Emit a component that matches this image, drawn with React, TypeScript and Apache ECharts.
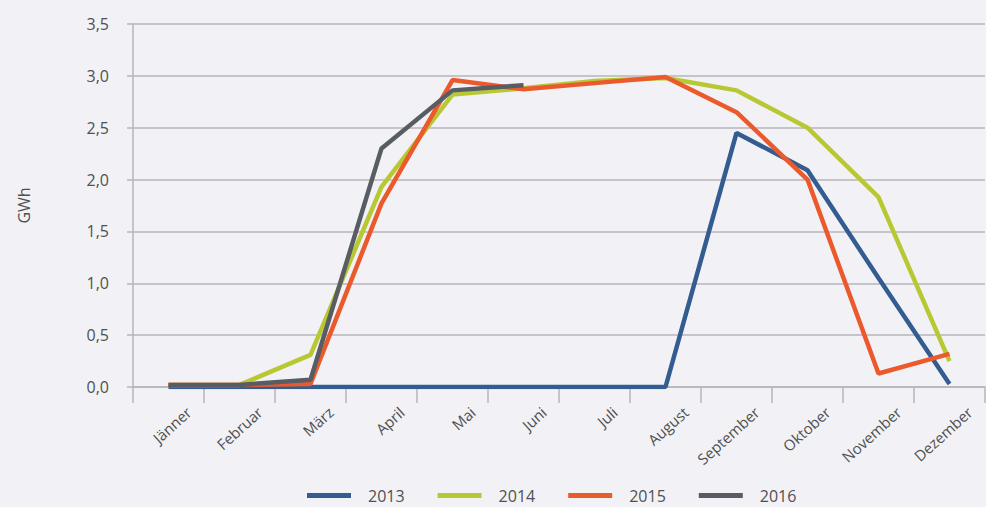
import React, { useEffect, useRef } from "react";
import * as echarts from "echarts";

const months = ["Jänner", "Februar", "März", "April", "Mai", "Juni", "Juli", "August", "September", "Oktober", "November", "Dezember"];
const yearNames = ["2013", "2014", "2015", "2016"];
const s2013 = [0.0, 0.0, 0.0, 0.0, 0.0, 0.0, 0.0, 0.0, 2.45, 2.09, 1.05, 0.03];
const s2014 = [0.02, 0.02, 0.31, 1.93, 2.82, 2.88, 2.95, 2.98, 2.86, 2.5, 1.83, 0.25];
const s2015 = [0.02, 0.02, 0.03, 1.77, 2.96, 2.87, 2.93, 2.99, 2.65, 2.0, 0.13, 0.32];
const s2016 = [0.02, 0.02, 0.07, 2.3, 2.86, 2.91, null, null, null, null, null, null];
const colors = ["#335d91", "#b8c833", "#eb5a2c", "#585d63"];

const FONT = "'Open Sans', sans-serif";

export default function App() {
  const ref = useRef<HTMLDivElement>(null);
  useEffect(() => {
    document.body.style.margin = "0";
    const chart = echarts.init(ref.current!, null, { renderer: "svg" });
    const all = [s2013, s2014, s2015, s2016];
    chart.setOption({
      animation: false,
      backgroundColor: "#f2f2f6",
      color: colors,
      grid: { left: 133, right: 1, top: 24, bottom: 120, containLabel: false },
      legend: {
        top: 487,
        left: 307,
        padding: 0,
        icon: "rect",
        itemWidth: 44,
        itemHeight: 5,
        itemGap: 33,
        textStyle: { fontFamily: FONT, fontSize: 16, lineHeight: 17, color: "#505050", padding: [0, 0, 0, 12] },
        data: yearNames,
      },
      xAxis: {
        type: "category",
        data: months,
        boundaryGap: true,
        axisLine: { show: true, lineStyle: { color: "#b9b5ba", width: 1.5 } },
        axisTick: { show: true, length: 16, lineStyle: { color: "#b9b5ba", width: 1.5 } },
        axisLabel: {
          rotate: 42,
          interval: 0,
          margin: 0,
          align: "right",
          verticalAlign: "top",
          padding: [23, 0, 0, 0],
          fontFamily: FONT,
          fontSize: 15,
          color: "#505050",
        },
      },
      yAxis: {
        type: "value",
        min: 0,
        max: 3.5,
        interval: 0.5,
        name: "GWh",
        nameLocation: "middle",
        nameGap: 101,
        nameTextStyle: { fontFamily: FONT, fontSize: 16, color: "#505050" },
        axisLine: { show: true, lineStyle: { color: "#b9b5ba", width: 1.5 } },
        axisTick: { show: true, length: 6, lineStyle: { color: "#b9b5ba", width: 1.5 } },
        splitLine: { show: true, lineStyle: { color: "#b9b5ba", width: 1.5 } },
        axisLabel: {
          margin: 24,
          fontFamily: FONT,
          fontSize: 16,
          color: "#505050",
          formatter: (v: number) => v.toFixed(1).replace(".", ","),
        },
      },
      series: yearNames.map((n, i) => ({
        name: n,
        type: "line",
        data: all[i],
        symbol: "none",
        connectNulls: false,
        lineStyle: { width: 4.5, color: colors[i] },
        itemStyle: { color: colors[i] },
      })),
    });
    return () => chart.dispose();
  }, []);
  return <div ref={ref} style={{ width: 986, height: 507 }} />;
}
